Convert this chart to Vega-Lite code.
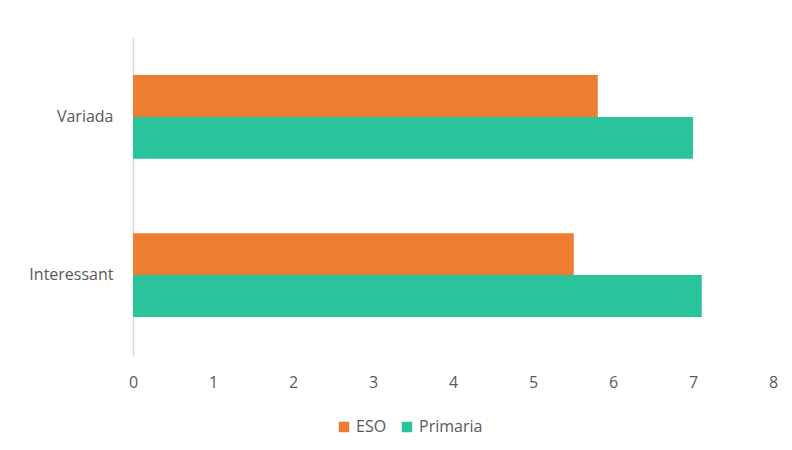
{
  "$schema": "https://vega.github.io/schema/vega-lite/v6.json",
  "width": 640,
  "height": 318,
  "autosize": {"type": "none"},
  "padding": {"left": 133, "top": 37, "right": 19, "bottom": 95},
  "background": "white",
  "data": {
    "values": [
      {"categoria": "Variada", "grup": "ESO", "valor": 5.81},
      {"categoria": "Variada", "grup": "Primaria", "valor": 7.0},
      {"categoria": "Interessant", "grup": "ESO", "valor": 5.51},
      {"categoria": "Interessant", "grup": "Primaria", "valor": 7.11}
    ]
  },
  "mark": {"type": "bar"},
  "encoding": {
    "y": {
      "field": "categoria",
      "type": "nominal",
      "sort": ["Variada", "Interessant"],
      "scale": {"paddingInner": 0.47, "paddingOuter": 0.24},
      "axis": {
        "title": null,
        "ticks": false,
        "domainColor": "#d9d9d9",
        "domainWidth": 1.5,
        "labelFont": "Open Sans",
        "labelFontSize": 16,
        "labelColor": "#595959",
        "labelPadding": 20
      }
    },
    "yOffset": {"field": "grup", "type": "nominal", "sort": ["ESO", "Primaria"], "scale": {"paddingInner": 0}},
    "x": {
      "field": "valor",
      "type": "quantitative",
      "scale": {"domain": [0, 8]},
      "axis": {
        "title": null,
        "values": [0, 1, 2, 3, 4, 5, 6, 7, 8],
        "labelOverlap": false,
        "labelFlush": false,
        "grid": false,
        "domain": false,
        "ticks": false,
        "labelFont": "Open Sans",
        "labelFontSize": 16,
        "labelColor": "#595959",
        "labelPadding": 19
      }
    },
    "color": {
      "field": "grup",
      "type": "nominal",
      "sort": ["ESO", "Primaria"],
      "scale": {"domain": ["ESO", "Primaria"], "range": ["#ED7D31", "#2AC49C"]},
      "legend": {
        "title": null,
        "orient": "none",
        "legendX": 203,
        "legendY": 382,
        "direction": "horizontal",
        "padding": 0,
        "symbolType": "square",
        "symbolSize": 110,
        "symbolStrokeWidth": 0,
        "labelFont": "Open Sans",
        "labelFontSize": 16,
        "labelColor": "#595959",
        "columnPadding": 12
      }
    }
  },
  "config": {"view": {"stroke": null}}
}
